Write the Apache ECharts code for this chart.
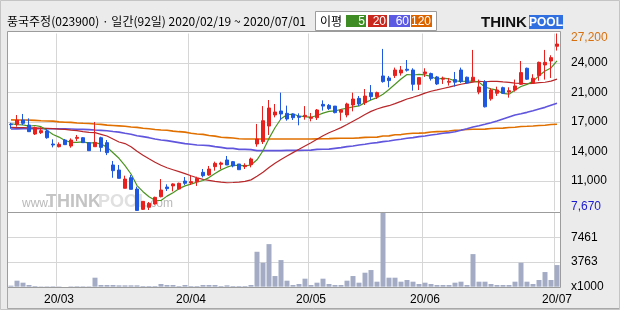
<!DOCTYPE html>
<html><head><meta charset="utf-8">
<script src="https://cdn.jsdelivr.net/npm/echarts@6.0.0/dist/echarts.min.js"></script>
<style>html,body{margin:0;padding:0;background:#ebebeb}#c{width:620px;height:310px}</style>
</head><body><div id="c"></div>
<script>
// ---- trading days (2020) ----
const febDays = [19,20,21,24,25,26,27,28];
const marDays = [2,3,4,5,6,9,10,11,12,13,16,17,18,19,20,23,24,25,26,27,30,31];
const aprDays = [1,2,3,6,7,8,9,10,13,14,16,17,20,21,22,23,24,27,28,29];
const mayDays = [4,6,7,8,11,12,13,14,15,18,19,20,21,22,25,26,27,28,29];
const junDays = [1,2,3,4,5,8,9,10,11,12,15,16,17,18,19,22,23,24,25,26,29,30];
const julDays = [1];

// ---- prices ----
const opens = [17200,17190,17665,17110,16125,16270,16455,15020,14723,15460,14800,15643,15715,15170,14723,15715,15170,12710,12155,10140,
11310,10060,7820,8045,8410,9213,10280,10400,10060,10940,10730,10870,11900,11600,12525,12780,13260,13075,12820,12525,
12745,15020,15280,17000,18220,18660,18400,18330,18100,18030,17850,17920,19390,19280,19200,18520,18220,19320,20050,19570,
20680,20240,22520,22300,22560,22850,23260,23180,21600,22780,22780,22410,22160,21830,22120,23180,22380,21940,20750,21870,
20000,20610,21230,20750,20970,21600,23370,21750,22560,23730,24170,25790];
const closes = [17150,17665,17300,16380,16820,16490,15715,14910,14980,14950,15460,15753,15170,14285,15200,14650,14065,12080,11235,11160,
10025,7700,8700,8485,9140,9951,10100,10620,10690,10690,10870,11235,11530,12265,12890,12930,12710,12600,12190,12670,
13370,15570,17590,18990,18550,18330,17780,17920,17960,18180,17990,18770,19200,18920,18480,18770,19430,19980,19430,20310,
20240,20680,21900,22010,23180,23180,23150,21600,22340,22960,22230,21640,22270,21940,21830,21900,21750,22380,21310,19120,
20970,20970,20610,20900,21420,22890,22160,22270,24020,24020,24540,26040];
const lows = [16700,16930,17110,16380,16015,16125,15605,14650,14650,14910,14610,15350,15170,14285,14723,14175,13800,11300,11235,10140,
10025,7670,7747,7747,8340,9140,9840,9800,10025,10500,10500,10400,11340,11530,12080,12265,12710,12450,12190,12265,
12450,14723,15020,16015,17960,17665,17590,17665,17080,17700,17520,17665,18700,18770,18400,17590,17960,18620,19200,19320,
19870,19980,21780,21270,22300,22560,23000,20900,20970,22410,22010,21530,21640,21460,21350,21750,21640,21940,20500,19050,
19800,20320,20530,20130,20790,21530,22080,21640,21990,22120,22300,25320];
const highs = [17350,18215,18330,17850,16930,16860,16640,15535,15200,15570,15640,16015,15790,15200,17450,15825,15460,13150,12710,11530,
11600,10320,8720,8630,9213,11160,10580,10690,10760,11380,11530,11417,12265,12600,13075,13075,13700,13150,12820,12893,
13520,17230,19200,19870,19430,20680,19250,18400,18400,19200,18440,18880,19830,19430,19200,18880,19570,20680,20310,21080,
21520,20790,25500,22520,23440,23620,24280,23370,22340,23370,22890,22520,22450,22300,22960,23440,22450,25390,22120,22050,
21150,21340,21340,21270,22120,24170,23440,22710,24100,25390,24800,27200];

// ---- volume (x1000) ----
const volumes = [220,965,666,320,170,120,130,140,120,65,130,150,140,130,1412,320,320,320,270,270,
270,270,170,170,170,467,320,320,170,320,170,170,320,320,320,170,270,170,170,170,
320,5288,3649,6432,1660,4046,965,320,467,1263,320,666,1263,467,320,320,965,1660,666,2157,
2555,815,11159,1412,1412,815,1064,815,467,666,467,320,320,320,666,815,320,4940,815,815,
467,320,320,320,815,3649,815,467,1064,2257,1064,3300];

// ---- moving averages (before enough history) ----
const ma5Head = [17250,17150,17120,17000];
const ma20Head = [16860,16820,16820,16790,16790,16780,16750,16710,16670,16640,16560,16490,16380,16310,16270,16090,15900,15570,15240];
const ma60 = [16680,16690,16700,16710,16710,16710,16710,16700,16700,16690,16670,16650,16630,16610,16560,16520,16480,16400,16330,16200,
16090,15940,15830,15720,15570,15460,15390,15280,15170,15060,14990,14910,14880,14840,14730,14650,14540,14540,14430,14430,
14400,14290,14290,14290,14290,14290,14320,14320,14320,14330,14350,14430,14440,14460,14540,14620,14730,14800,14910,14990,
15100,15170,15280,15350,15460,15540,15650,15720,15830,15900,16010,16090,16200,16270,16380,16530,16710,16900,17040,17190,
17370,17560,17780,18000,18220,18360,18510,18690,18880,19060,19280,19500];
const ma120 = [17680,17670,17660,17650,17630,17580,17560,17540,17460,17420,17400,17330,17300,17280,17220,17180,17100,17060,17020,16980,
16900,16850,16760,16710,16620,16570,16530,16440,16380,16330,16200,16130,16080,15950,15890,15760,15720,15680,15600,15580,
15580,15580,15580,15580,15580,15580,15580,15580,15580,15580,15580,15590,15600,15610,15640,15650,15650,15660,15700,15750,
15760,15780,15900,15920,16040,16060,16150,16200,16220,16250,16350,16380,16400,16450,16540,16570,16620,16640,16650,16660,
16730,16750,16770,16840,16870,16950,16970,17000,17060,17090,17170,17200];

// ---- build ----
const pad = n => (n < 10 ? '0' : '') + n;
const dates = [];
[[2,febDays],[3,marDays],[4,aprDays],[5,mayDays],[6,junDays],[7,julDays]].forEach(([m, ds]) => ds.forEach(d => dates.push('2020-' + pad(m) + '-' + pad(d))));
const monthStart = new Set();
dates.forEach((d, i) => { if (i > 0 && d.slice(5,7) !== dates[i-1].slice(5,7)) monthStart.add(i); });

function movingAvg(n, head) {
  return closes.map((c, i) => {
    if (i < n - 1) return head[i];
    let s = 0; for (let k = i - n + 1; k <= i; k++) s += closes[k];
    return Math.round(s / n);
  });
}
const ma5 = movingAvg(5, ma5Head);
const ma20 = movingAvg(20, ma20Head);

const candles = dates.map((d, i) => [opens[i], closes[i], lows[i], highs[i]]);
const priceMin = Math.min(...lows), priceMax = Math.max(...highs);
const volMin = Math.min(...volumes), volMax = Math.max(...volumes);
const fmt = n => Math.round(n).toLocaleString('en-US');

const FONT = '"Liberation Sans", Arial, sans-serif';
const KFONT = '"Noto Sans CJK KR", "Liberation Sans", sans-serif';
const C_UP = '#e8201e', C_DN = '#1e58e0';

const chart = echarts.init(document.getElementById('c'), null, {renderer: 'canvas'});
const catAxisBase = {
  type: 'category', data: dates, boundaryGap: true,
  axisLine: {show: false}, axisTick: {show: false},
  splitLine: {show: true, interval: (i) => monthStart.has(i), lineStyle: {color: '#d6d6d6', width: 1}}
};
chart.setOption({
  backgroundColor: '#ebebeb',
  animation: false,
  grid: [
    {left: 8, top: 33.5, width: 552, height: 177.2, outerBoundsMode: 'none', containLabel: false},
    {left: 8, top: 212.5, width: 552, height: 74.2, outerBoundsMode: 'none', containLabel: false}
  ],
  xAxis: [
    Object.assign({}, catAxisBase, {gridIndex: 0, axisLabel: {show: false}}),
    Object.assign({}, catAxisBase, {gridIndex: 1, axisLabel: {
      show: true, interval: (i) => monthStart.has(i), margin: 7,
      fontSize: 12, fontFamily: FONT, color: '#000',
      formatter: v => v.slice(2,4) + '/' + v.slice(5,7)
    }})
  ],
  yAxis: [
    {type: 'value', gridIndex: 0, position: 'right', min: priceMin, max: priceMax,
     interval: (priceMax - priceMin) / 6,
     axisLine: {show: false}, axisTick: {show: false},
     splitLine: {show: true, showMinLine: false, showMaxLine: false, lineStyle: {color: '#d6d6d6', width: 1}},
     axisLabel: {margin: 11, fontSize: 12, fontFamily: FONT, color: '#000',
       formatter: v => {
         if (Math.abs(v - priceMax) < 1) return '{hi|' + fmt(priceMax) + '}';
         if (Math.abs(v - priceMin) < 1) return '{lo|' + fmt(priceMin) + '}';
         return fmt(Math.round(v / 1000) * 1000);
       },
       rich: {
         hi: {color: '#d8700f', fontSize: 12, fontFamily: FONT, padding: [8,0,0,0]},
         lo: {color: '#1a1ad0', fontSize: 12, fontFamily: FONT, padding: [0,0,8,0]}
       }}},
    {type: 'value', gridIndex: 1, position: 'right', min: volMin, max: volMax,
     interval: (volMax - volMin) / 3,
     axisLine: {show: false}, axisTick: {show: false},
     splitLine: {show: true, showMinLine: false, showMaxLine: false, lineStyle: {color: '#d6d6d6', width: 1}},
     axisLabel: {margin: 11, fontSize: 12, fontFamily: FONT, color: '#000',
       formatter: v => {
         if (Math.abs(v - volMin) < 1) return 'x1000';
         if (Math.abs(v - volMax) < 1) return '';
         return String(Math.round(v));
       }}}
  ],
  series: [
    {name: 'MA120', type: 'line', xAxisIndex: 0, yAxisIndex: 0, data: ma120, showSymbol: false, symbol: 'none',
     lineStyle: {color: '#e07000', width: 1.6}, silent: true, z: 2},
    {name: 'MA60', type: 'line', xAxisIndex: 0, yAxisIndex: 0, data: ma60, showSymbol: false, symbol: 'none',
     lineStyle: {color: '#6055dd', width: 1.6}, silent: true, z: 2},
    {name: 'MA20', type: 'line', xAxisIndex: 0, yAxisIndex: 0, data: ma20, showSymbol: false, symbol: 'none',
     lineStyle: {color: '#b8282a', width: 1.2}, silent: true, z: 2},
    {name: 'MA5', type: 'line', xAxisIndex: 0, yAxisIndex: 0, data: ma5, showSymbol: false, symbol: 'none',
     lineStyle: {color: '#4a9420', width: 1.2}, silent: true, z: 2},
    {name: 'price', type: 'candlestick', xAxisIndex: 0, yAxisIndex: 0, data: candles, barWidth: 4,
     itemStyle: {color: C_UP, color0: C_DN, borderColor: C_UP, borderColor0: C_DN, borderWidth: 1}, z: 3},
    {name: 'volume', type: 'bar', xAxisIndex: 1, yAxisIndex: 1, data: volumes, barWidth: 5,
     itemStyle: {color: '#a3acc4'}, clip: true, z: 3}
  ],
  graphic: {elements: [
    // panels
    {type: 'rect', z: -20, silent: true, shape: {x: 8, y: 32, width: 552, height: 180.5}, style: {fill: '#ffffff'}},
    {type: 'rect', z: -20, silent: true, shape: {x: 8, y: 212.5, width: 552, height: 75}, style: {fill: '#ffffff'}},
    // watermark
    {type: 'text', z: -15, silent: true, x: 22, y: 210, style: {text: 'www.', font: '12px ' + FONT, fill: '#b9b9b9', textVerticalAlign: 'bottom'}},
    {type: 'text', z: -15, silent: true, x: 46, y: 211, style: {text: 'THINK', font: 'bold 18px ' + FONT, fill: '#c4c4c4', textVerticalAlign: 'bottom'}},
    {type: 'text', z: -15, silent: true, x: 98, y: 211, style: {text: 'POOL', font: 'bold 18px ' + FONT, fill: '#e0e0e0', textVerticalAlign: 'bottom'}},
    {type: 'text', z: -15, silent: true, x: 147, y: 210, style: {text: '.com', font: '12px ' + FONT, fill: '#b9b9b9', textVerticalAlign: 'bottom'}},
    // frames
    {type: 'rect', z: 50, silent: true, shape: {x: 7.5, y: 31.5, width: 553, height: 181}, style: {fill: null, stroke: '#9c9c9c', lineWidth: 1}},
    {type: 'rect', z: 50, silent: true, shape: {x: 7.5, y: 212.5, width: 553, height: 75}, style: {fill: null, stroke: '#9c9c9c', lineWidth: 1}},
    {type: 'polyline', z: 50, silent: true, shape: {points: [[7.5, 287], [7.5, 308.5], [620, 308.5]]}, style: {fill: null, stroke: '#a8a8a8', lineWidth: 1}},
    {type: 'rect', z: 50, silent: true, shape: {x: 0.5, y: 0.5, width: 619, height: 309}, style: {fill: null, stroke: '#c4c4c4', lineWidth: 1}},
    // header
    {type: 'text', silent: true, x: 7, y: 21, style: {text: '풍국주정(023900) · 일간(92일) 2020/02/19 ~ 2020/07/01', font: '12px ' + KFONT, fill: '#000', textVerticalAlign: 'middle'}},
    // legend box
    {type: 'rect', silent: true, shape: {x: 315.5, y: 11.5, width: 121, height: 19}, style: {fill: '#ffffff', stroke: '#9c9c9c', lineWidth: 1}},
    {type: 'text', silent: true, x: 320, y: 21, style: {text: '이평', font: '12px ' + KFONT, fill: '#000', textVerticalAlign: 'middle'}},
    {type: 'rect', silent: true, shape: {x: 346, y: 15, width: 20, height: 12}, style: {fill: '#3f8c24'}},
    {type: 'rect', silent: true, shape: {x: 368, y: 15, width: 19, height: 12}, style: {fill: '#c8281e'}},
    {type: 'rect', silent: true, shape: {x: 389, y: 15, width: 21, height: 12}, style: {fill: '#5c5ae2'}},
    {type: 'rect', silent: true, shape: {x: 411, y: 15, width: 21, height: 12}, style: {fill: '#dc6400'}},
    {type: 'text', silent: true, x: 365, y: 21.5, style: {text: '5', font: '12px ' + FONT, fill: '#fff', textAlign: 'right', textVerticalAlign: 'middle'}},
    {type: 'text', silent: true, x: 386, y: 21.5, style: {text: '20', font: '12px ' + FONT, fill: '#fff', textAlign: 'right', textVerticalAlign: 'middle'}},
    {type: 'text', silent: true, x: 409, y: 21.5, style: {text: '60', font: '12px ' + FONT, fill: '#fff', textAlign: 'right', textVerticalAlign: 'middle'}},
    {type: 'text', silent: true, x: 431, y: 21.5, style: {text: '120', font: '12px ' + FONT, fill: '#fff', textAlign: 'right', textVerticalAlign: 'middle'}},
    // logo
    {type: 'text', silent: true, x: 481, y: 22.5, style: {text: 'THINK', font: 'bold 15px ' + FONT, fill: '#111', textVerticalAlign: 'middle'}},
    {type: 'rect', silent: true, shape: {x: 529, y: 15, width: 34, height: 14}, style: {fill: '#2f6fe0'}},
    {type: 'text', silent: true, x: 546, y: 22.5, style: {text: 'POOL', font: 'bold 12px ' + FONT, fill: '#fff', textAlign: 'center', textVerticalAlign: 'middle'}}
  ]}
});
</script></body></html>
